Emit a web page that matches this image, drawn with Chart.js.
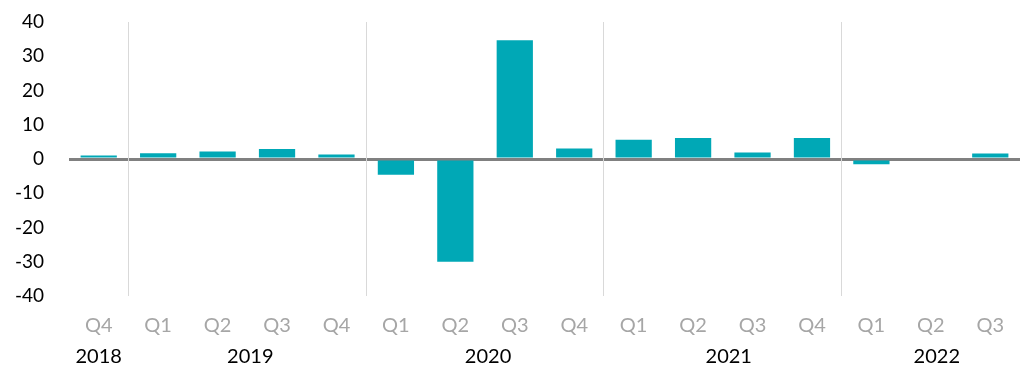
<!DOCTYPE html>
<html>
<head>
<meta charset="utf-8">
<script src="https://cdn.jsdelivr.net/npm/chart.js@4/dist/chart.umd.min.js"></script>
<style>
html,body{margin:0;padding:0;background:#fff;}
#wrap{width:1024px;height:384px;position:relative;}
</style>
</head>
<body>
<div id="wrap"><canvas id="c" width="1024" height="384"></canvas></div>
<script>
const quarters = ['Q4','Q1','Q2','Q3','Q4','Q1','Q2','Q3','Q4','Q1','Q2','Q3','Q4','Q1','Q2','Q3'];
const values = [1.0, 1.7, 2.2, 2.9, 1.3, -4.6, -30.0, 34.7, 3.1, 5.6, 6.1, 1.9, 6.1, -1.5, 0, 1.6];
const years = ['2018','2019','2020','2021','2022'];
const yearCenters = [0, 2.55, 6.55, 10.6, 14.1];
const yearSeparators = [0.5, 4.5, 8.5, 12.5];
const yTicks = [-40,-30,-20,-10,0,10,20,30,40];

const FONT = 'Lato, "Open Sans", sans-serif';

// ticks for the year axis: labelled year centres plus unlabelled separators
const yearAxisTicks = yearCenters.map((v, i) => ({ value: v, label: years[i], sep: false }))
  .concat(yearSeparators.map(v => ({ value: v, label: '', sep: true })))
  .sort((a, b) => a.value - b.value);

new Chart(document.getElementById('c'), {
  type: 'bar',
  data: {
    labels: quarters,
    datasets: [{
      data: values,
      backgroundColor: '#00A8B6',
      borderWidth: 0,
      barPercentage: 0.61,
      categoryPercentage: 1.0,
      xAxisID: 'x',
      yAxisID: 'y'
    }]
  },
  options: {
    responsive: false,
    animation: false,
    layout: { padding: { top: 0, right: 4, bottom: 0, left: 0 } },
    plugins: { legend: { display: false }, tooltip: { enabled: false } },
    scales: {
      y: {
        min: -40, max: 40,
        afterBuildTicks: s => { s.ticks = yTicks.map(v => ({ value: v })); },
        afterFit: s => { s.width = 69; s.paddingTop = 22; s.paddingBottom = 12; },
        border: { display: false },
        grid: {
          drawTicks: false,
          color: c => c.tick && c.tick.value === 0 ? '#808080' : 'rgba(0,0,0,0)',
          lineWidth: c => c.tick && c.tick.value === 0 ? 3 : 0
        },
        ticks: { color: '#000', font: { family: FONT, size: 19 }, padding: 25 }
      },
      x: {
        type: 'category',
        offset: true,
        position: 'bottom',
        border: { display: false },
        grid: { display: false },
        afterFit: s => { s.height = 40; },
        ticks: { color: '#A6A6A6', font: { family: FONT, size: 20 }, padding: 10, maxRotation: 0, autoSkip: false }
      },
      years: {
        type: 'linear',
        position: 'bottom',
        offset: false,
        min: -0.5, max: 15.5,
        border: { display: false },
        grid: {
          display: true, offset: false, drawTicks: false,
          color: c => c.tick && c.tick.sep ? '#D9D9D9' : 'rgba(0,0,0,0)',
          lineWidth: c => c.tick && c.tick.sep ? 1 : 0
        },
        afterBuildTicks: s => { s.ticks = yearAxisTicks.map(t => ({ value: t.value, sep: t.sep, lbl: t.label })); },
        afterFit: s => { s.height = 48; },
        ticks: {
          color: '#000', font: { family: FONT, size: 20 }, padding: 9, maxRotation: 0, autoSkip: false,
          callback: (v, i) => yearAxisTicks[i].label
        }
      }
    }
  }
});
</script>
</body>
</html>
